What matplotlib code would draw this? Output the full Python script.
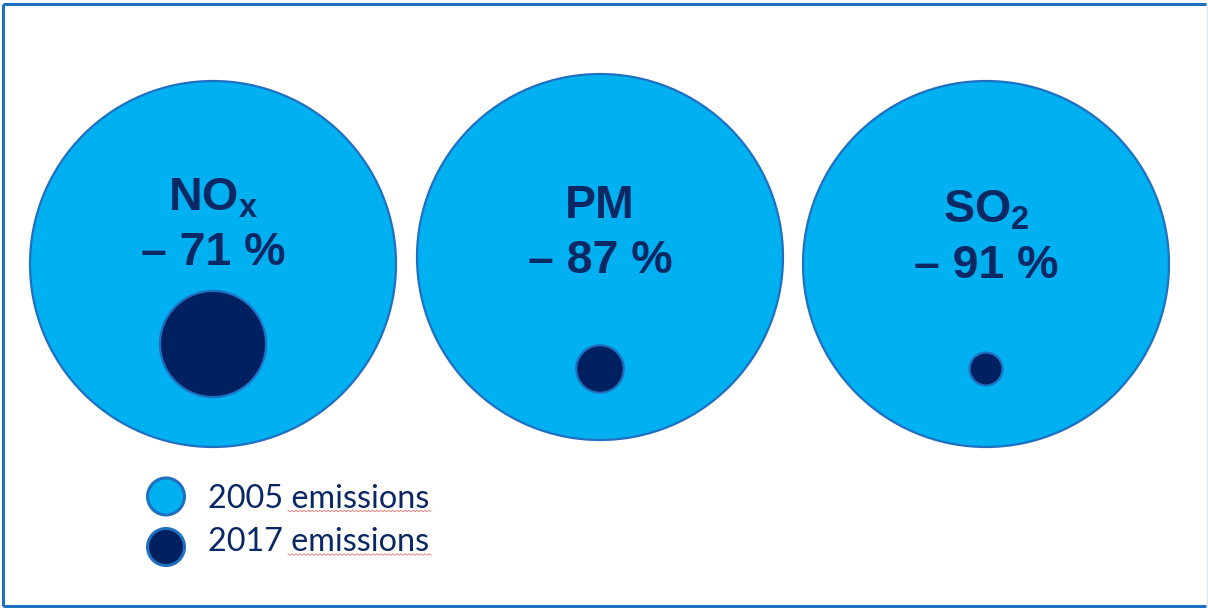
import matplotlib
matplotlib.use("Agg")
import matplotlib.pyplot as plt
from matplotlib.patches import Circle
import numpy as np

# ---- data ----
pollutants = [r"NO$_\mathbf{x}$", "PM", r"SO$_\mathbf{2}$"]
reduction_pct = [71, 87, 91]          # % reduction 2005 -> 2017
remaining = [1 - r / 100 for r in reduction_pct]   # 2017 relative to 2005
legend_labels = ["2005 emissions", "2017 emissions"]

# ---- style ----
LIGHT = "#00B0F0"
DARK = "#002060"
EDGE = "#1F70C1"
TEXT = "#0A2864"

plt.rcParams["mathtext.fontset"] = "custom"
plt.rcParams["mathtext.rm"] = "Liberation Sans:bold"
plt.rcParams["mathtext.bf"] = "Liberation Sans:bold"
plt.rcParams["mathtext.it"] = "Liberation Sans:bold"

W, H = 1208, 608
fig = plt.figure(figsize=(W / 100, H / 100), dpi=100)
ax = fig.add_axes([0, 0, 1, 1])
ax.set_xlim(0, W)
ax.set_ylim(H, 0)
ax.set_aspect("equal")
ax.axis("off")

# frame
ax.plot([3, 3], [4, 606], color="#1F70C1", lw=2.2, solid_capstyle="butt")
ax.plot([3, 1206], [4, 4], color="#1F70C1", lw=2.2, solid_capstyle="butt")
ax.plot([3, 1206], [606, 606], color="#1F70C1", lw=2.2, solid_capstyle="butt")
ax.plot([1207, 1207], [4, 606], color="#DCE6F0", lw=1.0)

centers_x = [213, 600, 986]
centers_y = [264, 257, 264]
R = 183
small_cy = [344, 369, 369]
label_base = [210, 218, 223]

for i, (name, red, rem) in enumerate(zip(pollutants, reduction_pct, remaining)):
    cx, cy = centers_x[i], centers_y[i]
    ax.add_patch(Circle((cx, cy), R, facecolor=LIGHT, edgecolor=EDGE, lw=1.6, zorder=2))
    ax.add_patch(Circle((cx, small_cy[i]), R * rem, facecolor=DARK, edgecolor=EDGE,
                        lw=1.6, zorder=3))
    ax.text(cx, label_base[i], name, ha="center", va="baseline", fontsize=33.5,
            fontweight="bold", family="Liberation Sans", color=TEXT, zorder=4)
    ax.text(cx, label_base[i] + 55, f"\u2013 {red} %", ha="center", va="baseline",
            fontsize=33.5, fontweight="bold", family="Liberation Sans", color=TEXT, zorder=4)

# legend
leg_y = [496.5, 547]
leg_text_base = [507.5, 551]
leg_fill = [LIGHT, DARK]
for y, tb, fc, lab in zip(leg_y, leg_text_base, leg_fill, legend_labels):
    ax.add_patch(Circle((166, y), 18.5, facecolor=fc, edgecolor=EDGE, lw=2.2, zorder=3))
    ax.text(208, tb, lab, ha="left", va="baseline", fontsize=23.3,
            family="Lato", color=TEXT)
    # spell-check squiggle under "emissions"
    xs = np.linspace(288, 431, 72)
    ys = tb + 3.5 + np.where(np.arange(72) % 2 == 0, -0.8, 0.8)
    ax.plot(xs, ys, color="#E05050", lw=0.6, alpha=0.8)

fig.savefig("out.png", dpi=100)
